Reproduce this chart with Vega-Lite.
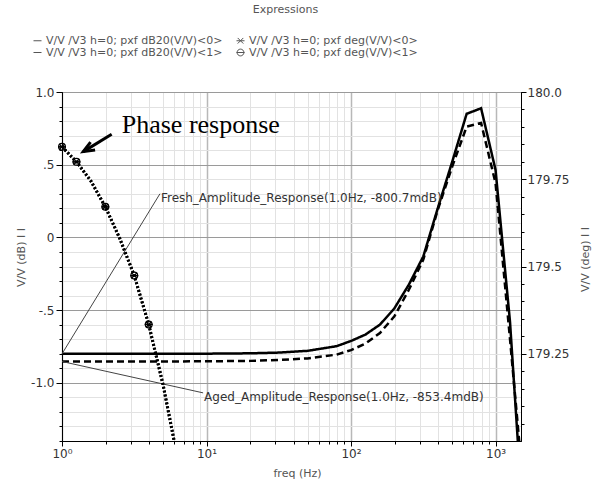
{
  "$schema": "https://vega.github.io/schema/vega-lite/v6.json",
  "width": 459,
  "height": 349,
  "autosize": {"type": "none"},
  "padding": {"left": 62, "top": 92, "right": 74, "bottom": 44},
  "config": {
    "font": "DejaVu Sans",
    "view": {"stroke": "black", "strokeWidth": 1},
    "axis": {"domainColor": "black", "tickColor": "black", "labelColor": "#333", "titleColor": "#555", "titleFontWeight": "normal", "titleFontSize": 11, "labelFontSize": 12, "labelOverlap": false, "labelBound": false}
  },
  "title": {"text": "Expressions", "fontSize": 11, "fontWeight": "normal", "color": "#555", "anchor": "middle", "dx": -6, "offset": 20, "font": "DejaVu Sans"},
  "datasets": {
    "amp": [
      {"series": "V/V /V3 h=0; pxf dB20(V/V)<0>", "freq": 1, "db": -0.8007},
      {"series": "V/V /V3 h=0; pxf dB20(V/V)<0>", "freq": 2, "db": -0.8006},
      {"series": "V/V /V3 h=0; pxf dB20(V/V)<0>", "freq": 5, "db": -0.8004},
      {"series": "V/V /V3 h=0; pxf dB20(V/V)<0>", "freq": 10, "db": -0.7995},
      {"series": "V/V /V3 h=0; pxf dB20(V/V)<0>", "freq": 20, "db": -0.797},
      {"series": "V/V /V3 h=0; pxf dB20(V/V)<0>", "freq": 31.6, "db": -0.792},
      {"series": "V/V /V3 h=0; pxf dB20(V/V)<0>", "freq": 50, "db": -0.78},
      {"series": "V/V /V3 h=0; pxf dB20(V/V)<0>", "freq": 79.4, "db": -0.748},
      {"series": "V/V /V3 h=0; pxf dB20(V/V)<0>", "freq": 100, "db": -0.712},
      {"series": "V/V /V3 h=0; pxf dB20(V/V)<0>", "freq": 125.9, "db": -0.668},
      {"series": "V/V /V3 h=0; pxf dB20(V/V)<0>", "freq": 158.5, "db": -0.6},
      {"series": "V/V /V3 h=0; pxf dB20(V/V)<0>", "freq": 199.5, "db": -0.488},
      {"series": "V/V /V3 h=0; pxf dB20(V/V)<0>", "freq": 251.2, "db": -0.325},
      {"series": "V/V /V3 h=0; pxf dB20(V/V)<0>", "freq": 316.2, "db": -0.131},
      {"series": "V/V /V3 h=0; pxf dB20(V/V)<0>", "freq": 398.1, "db": 0.2},
      {"series": "V/V /V3 h=0; pxf dB20(V/V)<0>", "freq": 501.2, "db": 0.52},
      {"series": "V/V /V3 h=0; pxf dB20(V/V)<0>", "freq": 631, "db": 0.85},
      {"series": "V/V /V3 h=0; pxf dB20(V/V)<0>", "freq": 794.3, "db": 0.888},
      {"series": "V/V /V3 h=0; pxf dB20(V/V)<0>", "freq": 1000, "db": 0.464},
      {"series": "V/V /V3 h=0; pxf dB20(V/V)<0>", "freq": 1258.9, "db": -0.58},
      {"series": "V/V /V3 h=0; pxf dB20(V/V)<0>", "freq": 1584.9, "db": -2.1},
      {"series": "V/V /V3 h=0; pxf dB20(V/V)<1>", "freq": 1, "db": -0.8534},
      {"series": "V/V /V3 h=0; pxf dB20(V/V)<1>", "freq": 2, "db": -0.8533},
      {"series": "V/V /V3 h=0; pxf dB20(V/V)<1>", "freq": 5, "db": -0.853},
      {"series": "V/V /V3 h=0; pxf dB20(V/V)<1>", "freq": 10, "db": -0.852},
      {"series": "V/V /V3 h=0; pxf dB20(V/V)<1>", "freq": 20, "db": -0.849},
      {"series": "V/V /V3 h=0; pxf dB20(V/V)<1>", "freq": 31.6, "db": -0.843},
      {"series": "V/V /V3 h=0; pxf dB20(V/V)<1>", "freq": 50, "db": -0.832},
      {"series": "V/V /V3 h=0; pxf dB20(V/V)<1>", "freq": 79.4, "db": -0.806},
      {"series": "V/V /V3 h=0; pxf dB20(V/V)<1>", "freq": 100, "db": -0.775},
      {"series": "V/V /V3 h=0; pxf dB20(V/V)<1>", "freq": 125.9, "db": -0.73},
      {"series": "V/V /V3 h=0; pxf dB20(V/V)<1>", "freq": 158.5, "db": -0.657},
      {"series": "V/V /V3 h=0; pxf dB20(V/V)<1>", "freq": 199.5, "db": -0.543},
      {"series": "V/V /V3 h=0; pxf dB20(V/V)<1>", "freq": 251.2, "db": -0.36},
      {"series": "V/V /V3 h=0; pxf dB20(V/V)<1>", "freq": 316.2, "db": -0.153},
      {"series": "V/V /V3 h=0; pxf dB20(V/V)<1>", "freq": 398.1, "db": 0.19},
      {"series": "V/V /V3 h=0; pxf dB20(V/V)<1>", "freq": 501.2, "db": 0.487},
      {"series": "V/V /V3 h=0; pxf dB20(V/V)<1>", "freq": 631, "db": 0.762},
      {"series": "V/V /V3 h=0; pxf dB20(V/V)<1>", "freq": 794.3, "db": 0.787},
      {"series": "V/V /V3 h=0; pxf dB20(V/V)<1>", "freq": 1000, "db": 0.373},
      {"series": "V/V /V3 h=0; pxf dB20(V/V)<1>", "freq": 1258.9, "db": -0.7},
      {"series": "V/V /V3 h=0; pxf dB20(V/V)<1>", "freq": 1584.9, "db": -1.8}
    ],
    "phase": [
      {"series": "V/V /V3 h=0; pxf deg(V/V)<0>", "freq": 1, "deg": 179.843},
      {"series": "V/V /V3 h=0; pxf deg(V/V)<0>", "freq": 1.259, "deg": 179.8},
      {"series": "V/V /V3 h=0; pxf deg(V/V)<0>", "freq": 1.585, "deg": 179.745},
      {"series": "V/V /V3 h=0; pxf deg(V/V)<0>", "freq": 1.995, "deg": 179.671},
      {"series": "V/V /V3 h=0; pxf deg(V/V)<0>", "freq": 2.512, "deg": 179.58},
      {"series": "V/V /V3 h=0; pxf deg(V/V)<0>", "freq": 3.162, "deg": 179.474},
      {"series": "V/V /V3 h=0; pxf deg(V/V)<0>", "freq": 3.981, "deg": 179.334},
      {"series": "V/V /V3 h=0; pxf deg(V/V)<0>", "freq": 5.012, "deg": 179.16},
      {"series": "V/V /V3 h=0; pxf deg(V/V)<0>", "freq": 6.31, "deg": 178.95},
      {"series": "V/V /V3 h=0; pxf deg(V/V)<1>", "freq": 1, "deg": 179.843},
      {"series": "V/V /V3 h=0; pxf deg(V/V)<1>", "freq": 1.259, "deg": 179.8},
      {"series": "V/V /V3 h=0; pxf deg(V/V)<1>", "freq": 1.585, "deg": 179.745},
      {"series": "V/V /V3 h=0; pxf deg(V/V)<1>", "freq": 1.995, "deg": 179.671},
      {"series": "V/V /V3 h=0; pxf deg(V/V)<1>", "freq": 2.512, "deg": 179.58},
      {"series": "V/V /V3 h=0; pxf deg(V/V)<1>", "freq": 3.162, "deg": 179.474},
      {"series": "V/V /V3 h=0; pxf deg(V/V)<1>", "freq": 3.981, "deg": 179.334},
      {"series": "V/V /V3 h=0; pxf deg(V/V)<1>", "freq": 5.012, "deg": 179.16},
      {"series": "V/V /V3 h=0; pxf deg(V/V)<1>", "freq": 6.31, "deg": 178.95}
    ],
    "markers": [
      {"series": "V/V /V3 h=0; pxf deg(V/V)<0>", "freq": 1, "deg": 179.843},
      {"series": "V/V /V3 h=0; pxf deg(V/V)<0>", "freq": 1.259, "deg": 179.8},
      {"series": "V/V /V3 h=0; pxf deg(V/V)<0>", "freq": 1.995, "deg": 179.671},
      {"series": "V/V /V3 h=0; pxf deg(V/V)<0>", "freq": 3.162, "deg": 179.474},
      {"series": "V/V /V3 h=0; pxf deg(V/V)<0>", "freq": 3.981, "deg": 179.334},
      {"series": "V/V /V3 h=0; pxf deg(V/V)<1>", "freq": 1, "deg": 179.843},
      {"series": "V/V /V3 h=0; pxf deg(V/V)<1>", "freq": 1.259, "deg": 179.8},
      {"series": "V/V /V3 h=0; pxf deg(V/V)<1>", "freq": 1.995, "deg": 179.671},
      {"series": "V/V /V3 h=0; pxf deg(V/V)<1>", "freq": 3.162, "deg": 179.474},
      {"series": "V/V /V3 h=0; pxf deg(V/V)<1>", "freq": 3.981, "deg": 179.334}
    ],
    "callouts": [
      {"freq": 1, "db": -0.8007, "freq2": 4.76, "db2": 0.3, "label": "Fresh_Amplitude_Response(1.0Hz, -800.7mdB)"},
      {"freq": 1, "db": -0.8534, "freq2": 9.47, "db2": -1.069, "label": "Aged_Amplitude_Response(1.0Hz, -853.4mdB)"}
    ],
    "note": [
      {"freq": 2.59, "db": 0.7206, "label": "Phase response"}
    ],
    "arrow": [
      {"freq": 2.206, "db": 0.7096, "freq2": 1.404, "db2": 0.59}
    ]
  },
  "layer": [
    {
      "layer": [
        {
          "data": {"name": "amp"},
          "mark": {"type": "line", "clip": true, "color": "black", "strokeWidth": 2.5},
          "encoding": {
            "x": {
              "field": "freq", "type": "quantitative", "title": "freq (Hz)",
              "scale": {"type": "log", "domain": [1, 1500], "nice": false},
              "axis": {
                "values": [1, 2, 3, 4, 5, 6, 7, 8, 9, 10, 20, 30, 40, 50, 60, 70, 80, 90, 100, 200, 300, 400, 500, 600, 700, 800, 900, 1000],
                "labelExpr": "datum.value==1?'10⁰':datum.value==10?'10¹':datum.value==100?'10²':datum.value==1000?'10³':''",
                "labelOverlap": false, "labelFlush": false, "labelPadding": 2,
                "grid": true,
                "gridColor": {"condition": {"test": "indexof([1,10,100,1000], datum.value) >= 0", "value": "#b8b8b8"}, "value": "#e2e2e2"},
                "gridWidth": {"condition": {"test": "indexof([1,10,100,1000], datum.value) >= 0", "value": 1.5}, "value": 1},
                "tickSize": {"condition": {"test": "indexof([1,10,100,1000], datum.value) >= 0", "value": 5}, "value": 3},
                "titleX": 235, "titleY": 32, "titleBaseline": "middle"
              }
            },
            "y": {
              "field": "db", "type": "quantitative", "title": "V/V (dB) I I",
              "scale": {"domain": [-1.4, 1.0], "nice": false, "zero": false},
              "axis": {
                "orient": "left", "zindex": 0,
                "values": [-1, -0.5, 0, 0.5, 1],
                "labelExpr": "datum.value==1?'1.0':datum.value==0.5?'.5':datum.value==0?'0':datum.value==-0.5?'-.5':'-1.0'",
                "labelOverlap": false, "labelFlush": false, "labelPadding": 2,
                "grid": true, "gridColor": "#9a9a9a", "tickSize": 6,
                "titleAngle": -90, "titleX": -41, "titleY": 165, "titleBaseline": "middle"
              }
            },
            "strokeDash": {
              "field": "series", "type": "nominal", "legend": null,
              "scale": {"domain": ["V/V /V3 h=0; pxf dB20(V/V)<0>", "V/V /V3 h=0; pxf dB20(V/V)<1>"], "range": [[1, 0], [7, 4]]}
            }
          }
        },
        {
          "data": {"name": "callouts"},
          "mark": {"type": "rule", "color": "#444", "strokeWidth": 1},
          "encoding": {
            "x": {"field": "freq", "type": "quantitative", "title": "freq (Hz)"},
            "y": {
              "field": "db", "type": "quantitative",
              "axis": {
                "orient": "left", "title": null, "labels": false, "zindex": 0,
                "values": [-1.4, -1.3, -1.2, -1.1, -0.9, -0.8, -0.7, -0.6, -0.4, -0.3, -0.2, -0.1, 0.1, 0.2, 0.3, 0.4, 0.6, 0.7, 0.8, 0.9],
                "grid": true, "gridColor": "#e2e2e2", "tickSize": 3
              }
            },
            "x2": {"field": "freq2"},
            "y2": {"field": "db2"}
          }
        },
        {
          "data": {"name": "callouts"},
          "mark": {"type": "text", "align": "left", "baseline": "middle", "dx": 1, "dy": 4, "fontSize": 12, "color": "#333"},
          "encoding": {
            "x": {"field": "freq2", "type": "quantitative", "title": "freq (Hz)"},
            "y": {"field": "db2", "type": "quantitative", "axis": null},
            "text": {"field": "label"}
          }
        },
        {
          "data": {"name": "note"},
          "mark": {"type": "text", "align": "left", "baseline": "alphabetic", "font": "Liberation Serif", "fontSize": 26, "color": "black"},
          "encoding": {
            "x": {"field": "freq", "type": "quantitative", "title": "freq (Hz)"},
            "y": {"field": "db", "type": "quantitative", "axis": null},
            "text": {"field": "label"}
          }
        },
        {
          "data": {"name": "arrow"},
          "mark": {"type": "rule", "color": "black", "strokeWidth": 3},
          "encoding": {
            "x": {"field": "freq", "type": "quantitative", "title": "freq (Hz)"},
            "y": {"field": "db", "type": "quantitative", "axis": null},
            "x2": {"field": "freq2"},
            "y2": {"field": "db2"}
          }
        },
        {
          "data": {"name": "arrow"},
          "mark": {"type": "point", "shape": "M-1,-0.414L0,0L-1,0.414", "size": 484, "angle": 150, "filled": false, "color": "black", "strokeWidth": 3, "opacity": 1},
          "encoding": {
            "x": {"field": "freq2", "type": "quantitative", "title": "freq (Hz)"},
            "y": {"field": "db2", "type": "quantitative", "axis": null}
          }
        }
      ],
      "resolve": {"axis": {"y": "independent"}}
    },
    {
      "layer": [
        {
          "data": {"name": "phase"},
          "mark": {"type": "line", "clip": true, "color": "black", "strokeWidth": 3, "strokeDash": [2, 2]},
          "encoding": {
            "x": {"field": "freq", "type": "quantitative", "title": "freq (Hz)"},
            "y": {
              "field": "deg", "type": "quantitative", "title": "V/V (deg) I I",
              "scale": {"domain": [179.0, 180.0], "nice": false, "zero": false},
              "axis": {
                "orient": "right",
                "values": [179.25, 179.5, 179.75, 180],
                "labelExpr": "datum.value==180?'180.0':datum.value==179.75?'179.75':datum.value==179.5?'179.5':'179.25'",
                "labelOverlap": false, "labelFlush": false, "labelPadding": 1,
                "grid": false, "tickSize": 5,
                "titleAngle": -90, "titleX": 64, "titleY": 167, "titleBaseline": "middle"
              }
            },
            "detail": {"field": "series", "type": "nominal"}
          }
        },
        {
          "data": {"name": "markers"},
          "mark": {"type": "point", "filled": false, "color": "black", "size": 64, "strokeWidth": 1.2, "opacity": 1},
          "encoding": {
            "x": {"field": "freq", "type": "quantitative", "title": "freq (Hz)"},
            "y": {
              "field": "deg", "type": "quantitative",
              "axis": {
                "orient": "right", "title": null, "labels": false, "grid": false, "tickSize": 3,
                "values": [179.05, 179.1, 179.15, 179.2, 179.3, 179.35, 179.4, 179.45, 179.55, 179.6, 179.65, 179.7, 179.8, 179.85, 179.9, 179.95]
              }
            },
            "shape": {
              "field": "series", "type": "nominal",
              "scale": {
                "domain": ["V/V /V3 h=0; pxf dB20(V/V)<0>", "V/V /V3 h=0; pxf deg(V/V)<0>", "V/V /V3 h=0; pxf dB20(V/V)<1>", "V/V /V3 h=0; pxf deg(V/V)<1>"],
                "range": ["M-1,0H1", "M-1,0H1M-0.7,-0.7L0.7,0.7M-0.7,0.7L0.7,-0.7", "M-1,0H1", "M-0.85,0A0.85,0.85 0 1,1 0.85,0A0.85,0.85 0 1,1 -0.85,0M-1,0H1"]
              },
              "legend": {
                "title": null, "orient": "none", "legendX": -30, "legendY": -57, "columns": 2, "direction": "horizontal",
                "symbolSize": 64, "symbolStrokeColor": "#555", "symbolFillColor": "transparent", "symbolStrokeWidth": 1,
                "labelFontSize": 11, "labelColor": "#555", "labelOffset": 3, "columnPadding": 11, "rowPadding": 0, "labelLimit": 0, "padding": 0
              }
            }
          }
        }
      ],
      "resolve": {"axis": {"y": "independent"}}
    }
  ],
  "resolve": {"scale": {"y": "independent"}}
}
